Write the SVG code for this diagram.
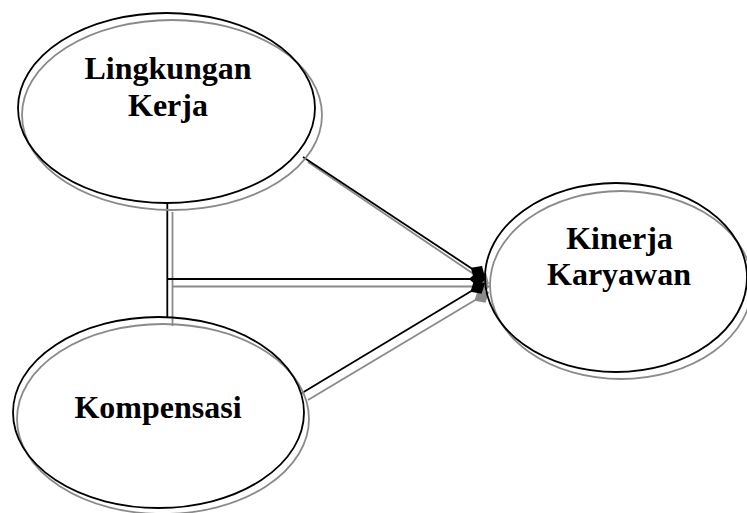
<svg xmlns="http://www.w3.org/2000/svg" xmlns:xlink="http://www.w3.org/1999/xlink" width="747" height="513" viewBox="0 0 747 513">
<style>
.bk{fill:none;stroke:#000;stroke-width:1.8}
.gr{fill:none;stroke:#8a8a8a;stroke-width:1.8}
.hk{fill:#000}
.hg{fill:#8a8a8a}
.t{font-family:"Liberation Serif","Times New Roman",serif;font-weight:bold;font-size:32px;fill:#000;text-anchor:middle}
</style>
<defs>
<path id="dia" d="M-17,0 L-8.5,-7.5 L0,0 L-8.5,7.5 Z"/>
</defs>
<rect width="747" height="513" fill="#fff"/>
<g id="connectors">
<line class="gr" x1="172.5" y1="212" x2="172.5" y2="326"/>
<line class="gr" x1="172.5" y1="286.5" x2="488" y2="286.5"/>
<line class="gr" x1="308" y1="162" x2="487" y2="283"/>
<line class="gr" x1="308" y1="400" x2="487" y2="293"/>
<use xlink:href="#dia" href="#dia" class="hg" transform="translate(490,286.5)"/>
<use xlink:href="#dia" href="#dia" class="hg" transform="translate(489,284) rotate(34)"/>
<use xlink:href="#dia" href="#dia" class="hg" transform="translate(489,292) rotate(-30.8)"/>
<line class="bk" x1="167.3" y1="204" x2="167.3" y2="317"/>
<line class="bk" x1="167.3" y1="279" x2="484" y2="279"/>
<line class="bk" x1="303" y1="157" x2="483" y2="276"/>
<line class="bk" x1="302" y1="393" x2="483" y2="284"/>
<use xlink:href="#dia" href="#dia" class="hk" transform="translate(486,279)"/>
<use xlink:href="#dia" href="#dia" class="hk" transform="translate(485,277) rotate(33.4)"/>
<use xlink:href="#dia" href="#dia" class="hk" transform="translate(485,283) rotate(-31)"/>
</g>
<g id="lingkungan-kerja">
<ellipse class="gr" cx="172" cy="115" rx="150" ry="95"/>
<ellipse class="bk" cx="166.5" cy="108" rx="148.5" ry="95"/>
<text class="t" x="168" y="79">Lingkungan</text>
<text class="t" x="168" y="115.5">Kerja</text>
</g>
<g id="kompensasi">
<ellipse class="gr" cx="163" cy="419" rx="146" ry="95"/>
<ellipse class="bk" cx="158.5" cy="412.5" rx="145.5" ry="95.5"/>
<text class="t" x="158" y="418">Kompensasi</text>
</g>
<g id="kinerja-karyawan">
<ellipse class="gr" cx="621" cy="285" rx="131" ry="94"/>
<ellipse class="bk" cx="616" cy="277.5" rx="131" ry="94.5"/>
<text class="t" x="619.5" y="249">Kinerja</text>
<text class="t" x="619" y="285">Karyawan</text>
</g>
</svg>
